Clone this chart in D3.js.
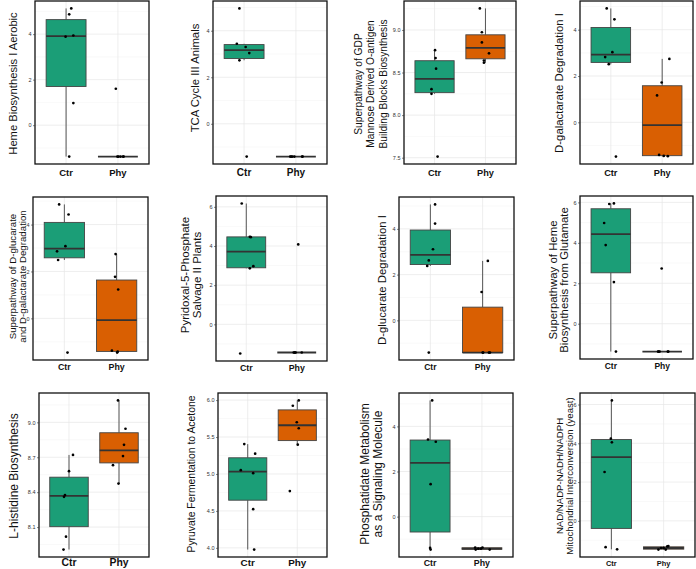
<!DOCTYPE html>
<html><head><meta charset="utf-8">
<script src="https://cdn.jsdelivr.net/npm/d3@7"></script>
<style>
html,body{margin:0;padding:0;background:#fff;}
svg{display:block;font-family:"Liberation Sans",Arial,sans-serif;}
</style></head>
<body>
<svg id="chart" width="696" height="569"></svg>
<script>
// ---------------- DATA ----------------
const groups = ["Ctr", "Phy"];

const titles = [
  ["Heme Biosynthesis I Aerobic"],
  ["TCA Cycle III Animals"],
  ["Superpathway of GDP", "Mannose Derived O-antigen", "Building Blocks Biosynthesis"],
  ["D-galactarate Degradation I"],
  ["Superpathway of D-glucarate", "and D-galactarate Degradation"],
  ["Pyridoxal-5-Phosphate", "Salvage II Plants"],
  ["D-glucarate Degradation I"],
  ["Superpathway of Heme", "Biosynthesis from Glutamate"],
  ["L-histidine Biosynthesis"],
  ["Pyruvate Fermentation to Acetone"],
  ["Phosphatidate Metabolism", "as a Signaling Molecule"],
  ["NAD/NADP-NADH/NADPH", "Mitochondrial Interconversion (yeast)"]
];

const ctrValues = [
  [5.13, 4.87, 3.94, 3.89, 0.97, -1.38],
  [4.96, 3.44, 3.30, 3.04, 2.73, -1.41],
  [8.763, 8.67, 8.545, 8.305, 8.25, 7.513],
  [4.92, 4.45, 3.03, 2.82, 2.51, -1.48],
  [4.86, 4.43, 3.08, 2.86, 2.49, -1.46],
  [6.17, 4.47, 4.45, 2.97, 2.86, -1.49],
  [5.07, 4.23, 3.11, 2.62, 2.38, -1.41],
  [5.92, 5.95, 4.98, 3.89, 2.06, -1.38],
  [8.72, 8.58, 8.375, 8.36, 8.018, 7.907],
  [5.404, 5.275, 5.051, 5.011, 4.523, 3.977],
  [5.15, 3.42, 3.32, 1.44, -1.46, -1.39],
  [6.21, 4.24, 4.05, 2.52, -1.36, -1.47]
];

const phyValues = [
  [1.60, -1.38, -1.38, -1.38, -1.38, -1.38],
  [-1.41, -1.41, -1.41, -1.41, -1.41, -1.41],
  [9.253, 8.973, 8.853, 8.725, 8.64, 8.615],
  [2.74, 1.72, 1.16, -1.41, -1.46, -1.45],
  [2.74, 1.77, 1.23, -1.38, -1.42, -1.46],
  [4.08, -1.44, -1.44, -1.44, -1.44, -1.44],
  [2.60, 1.24, -1.41, -1.41, -1.41, -1.41],
  [2.73, -1.38, -1.38, -1.38, -1.38, -1.38],
  [9.188, 8.945, 8.807, 8.71, 8.632, 8.474],
  [5.995, 5.923, 5.70, 5.619, 5.396, 4.769],
  [-1.37, -1.46, -1.42, -1.37, -1.46, -1.42],
  [-1.48, -1.48, -1.40, -1.40, -1.32, -1.30]
];

// horizontal jitter of each point (category units)
const ctrJitter = [
  [0.10, 0.06, 0.14, -0.01, 0.14, 0.06],
  [-0.09, -0.14, 0.03, 0.10, -0.09, 0.05],
  [0.01, 0.02, 0.03, -0.06, -0.06, 0.06],
  [-0.08, 0.07, 0.03, -0.11, -0.04, 0.10],
  [-0.10, 0.08, 0.02, -0.14, -0.12, 0.06],
  [-0.09, 0.07, 0.09, 0.14, 0.07, -0.12],
  [0.09, 0.09, 0.05, -0.03, -0.06, -0.03],
  [-0.03, 0.06, -0.13, -0.10, 0.06, 0.10],
  [0.08, 0.00, -0.08, -0.10, -0.06, -0.11],
  [-0.07, 0.15, -0.14, 0.11, 0.11, 0.13],
  [0.04, -0.04, 0.11, 0.01, 0.01, 0.00],
  [0.01, -0.01, 0.01, -0.13, -0.11, 0.11]
];
const phyJitter = [
  [-0.04, -0.01, 0.01, 0.05, 0.10, 0.11],
  [-0.11, -0.07, -0.03, 0.12, 0.13, -0.09],
  [-0.11, -0.07, -0.07, 0.07, -0.03, -0.03],
  [0.14, -0.01, -0.10, -0.06, 0.11, 0.03],
  [-0.02, -0.03, 0.03, -0.09, 0.02, 0.01],
  [0.03, -0.06, -0.04, -0.02, 0.10, -0.04],
  [0.10, -0.02, 0.00, 0.01, 0.12, 0.14],
  [-0.01, -0.08, -0.05, 0.11, 0.12, -0.07],
  [-0.02, 0.13, 0.10, 0.08, -0.12, -0.01],
  [0.03, -0.09, -0.01, 0.03, 0.01, -0.15],
  [-0.13, -0.12, -0.07, 0.01, 0.15, -0.02],
  [-0.10, 0.04, -0.05, 0.00, 0.07, 0.09]
];

const yTicks = [
  [0, 2, 4], [0, 2, 4], [7.5, 8.0, 8.5, 9.0], [0, 2, 4],
  [0, 2, 4], [0, 2, 4, 6], [0, 2, 4], [0, 2, 4, 6],
  [8.1, 8.4, 8.7, 9.0], [4.0, 4.5, 5.0, 5.5, 6.0], [0, 2, 4], [0, 2, 4, 6]
];
const yTickFormat = ["d", "d", ".1f", "d", "d", "d", "d", "d", ".1f", ".1f", "d", "d"];

// ---------------- LAYOUT ----------------
// panel frames [left, top, right, bottom]
const frames = [
  [35, 1, 149, 164], [213, 1, 327, 164], [404, 1, 516, 164], [580, 1, 693, 164],
  [33, 197, 148, 360], [216, 196, 327, 361], [399, 197, 514, 360], [580, 196, 693, 359],
  [39, 393, 149, 557], [218, 393, 327, 557], [399, 393, 513, 557], [580, 393, 695, 557]
];
// title: [x of first line, line spacing, y centre, font size]
const titleLayout = [
  [12.7, 0, 83.5, 11.2], [195, 0, 78, 11.3], [358.3, 12.5, 84, 10.2], [559.3, 0, 83, 11.4],
  [12.3, 10.5, 276.5, 9.7], [185, 12.3, 275, 11.5], [381.7, 0, 280, 11.35], [552.7, 11.0, 280, 11.4],
  [14, 0, 476, 12], [191.7, 0, 474, 10.4], [365, 13.3, 474, 12], [559.3, 10.0, 476, 9.6]
];
const xLabelSize = [9.5, 10, 9.2, 9.2, 8.8, 8.8, 8.5, 8.5, 10.4, 9.9, 8.8, 7.4];
const xLabelDrop = [12, 12, 12, 12, 10, 10, 10, 10, 8.6, 8.6, 8.6, 8.6];
const colors = {Ctr: "#1b9e77", Phy: "#d95f02"};

// ---------------- DRAW ----------------
const svg = d3.select("#chart");

function boxStats(vals) {
  const s = vals.slice().sort(d3.ascending);
  const q1 = d3.quantileSorted(s, 0.25), med = d3.quantileSorted(s, 0.5), q3 = d3.quantileSorted(s, 0.75);
  const iqr = q3 - q1;
  const lo = d3.min(s.filter(v => v >= q1 - 1.5 * iqr));
  const hi = d3.max(s.filter(v => v <= q3 + 1.5 * iqr));
  return {q1, med, q3, lo, hi};
}

titles.forEach((tl, i) => {
  const [L, T, R, B] = frames[i];
  const g = svg.append("g");
  const data = {Ctr: ctrValues[i], Phy: phyValues[i]};
  const jit = {Ctr: ctrJitter[i], Phy: phyJitter[i]};
  const all = ctrValues[i].concat(phyValues[i]);
  const [mn, mx] = d3.extent(all);
  const pad = (mx - mn) * 0.05;
  const y = d3.scaleLinear().domain([mn - pad, mx + pad]).range([B, T]);
  const x = d3.scaleLinear().domain([0.4, 2.6]).range([L, R]);
  const pos = {Ctr: 1, Phy: 2};

  // grid
  const ticks = yTicks[i];
  const step = ticks[1] - ticks[0];
  const minor = [];
  for (let k = -1; k <= ticks.length; k++) {
    const v = ticks[0] + (k + 0.5) * step;
    if (v > y.domain()[0] && v < y.domain()[1]) minor.push(v);
  }
  g.selectAll(".minor").data(minor).join("line")
    .attr("x1", L).attr("x2", R).attr("y1", d => y(d)).attr("y2", d => y(d))
    .attr("stroke", "#f3f3f3").attr("stroke-width", 0.5);
  g.selectAll(".major").data(ticks).join("line")
    .attr("x1", L).attr("x2", R).attr("y1", d => y(d)).attr("y2", d => y(d))
    .attr("stroke", "#e6e6e6").attr("stroke-width", 0.7);
  g.selectAll(".vgrid").data(groups).join("line")
    .attr("x1", d => x(pos[d])).attr("x2", d => x(pos[d])).attr("y1", T).attr("y2", B)
    .attr("stroke", "#e6e6e6").attr("stroke-width", 0.7);

  const bw = (x(1.385) - x(1));
  groups.forEach(gr => {
    const st = boxStats(data[gr]);
    const cx = x(pos[gr]);
    g.append("line").attr("x1", cx).attr("x2", cx).attr("y1", y(st.q3)).attr("y2", y(st.hi))
      .attr("stroke", "#444").attr("stroke-width", 0.9);
    g.append("line").attr("x1", cx).attr("x2", cx).attr("y1", y(st.q1)).attr("y2", y(st.lo))
      .attr("stroke", "#444").attr("stroke-width", 0.9);
    g.append("rect").attr("x", cx - bw).attr("width", 2 * bw)
      .attr("y", y(st.q3)).attr("height", Math.max(0, y(st.q1) - y(st.q3)))
      .attr("fill", colors[gr]).attr("stroke", "#444").attr("stroke-width", 0.9);
    g.append("line").attr("x1", cx - bw).attr("x2", cx + bw).attr("y1", y(st.med)).attr("y2", y(st.med))
      .attr("stroke", "#333").attr("stroke-width", 1.8);
    g.selectAll(null).data(data[gr].map((v, k) => ({v, j: jit[gr][k]}))).join("circle")
      .attr("cx", d => x(pos[gr] + d.j)).attr("cy", d => y(d.v)).attr("r", 1.35).attr("fill", "#000");
  });

  // border
  g.append("rect").attr("x", L).attr("y", T).attr("width", R - L).attr("height", B - T)
    .attr("fill", "none").attr("stroke", "#111").attr("stroke-width", 1.3);

  // y axis
  const ax = g.append("g").attr("transform", `translate(${L},0)`)
    .call(d3.axisLeft(y).tickValues(ticks).tickSize(2).tickPadding(1.5).tickFormat(d3.format(yTickFormat[i])));
  ax.select(".domain").remove();
  ax.selectAll("line").attr("stroke", "#333").attr("stroke-width", 0.6);
  ax.selectAll("text").attr("font-size", 5.5).attr("fill", "#333").attr("font-family", "Liberation Sans, Arial, sans-serif");

  // x labels
  g.selectAll(".xl").data(groups).join("text")
    .attr("x", d => x(pos[d])).attr("y", B + xLabelDrop[i])
    .attr("text-anchor", "middle").attr("font-weight", "bold")
    .attr("font-size", xLabelSize[i]).attr("fill", "#111").text(d => d);

  // title
  const [tx, gap, ty, fs] = titleLayout[i];
  tl.forEach((line, k) => {
    g.append("text").attr("transform", `translate(${tx + k * gap},${ty}) rotate(-90)`)
      .attr("text-anchor", "middle").attr("dominant-baseline", "central")
      .attr("font-size", fs).attr("fill", "#111").text(line);
  });
});
</script>
</body></html>
